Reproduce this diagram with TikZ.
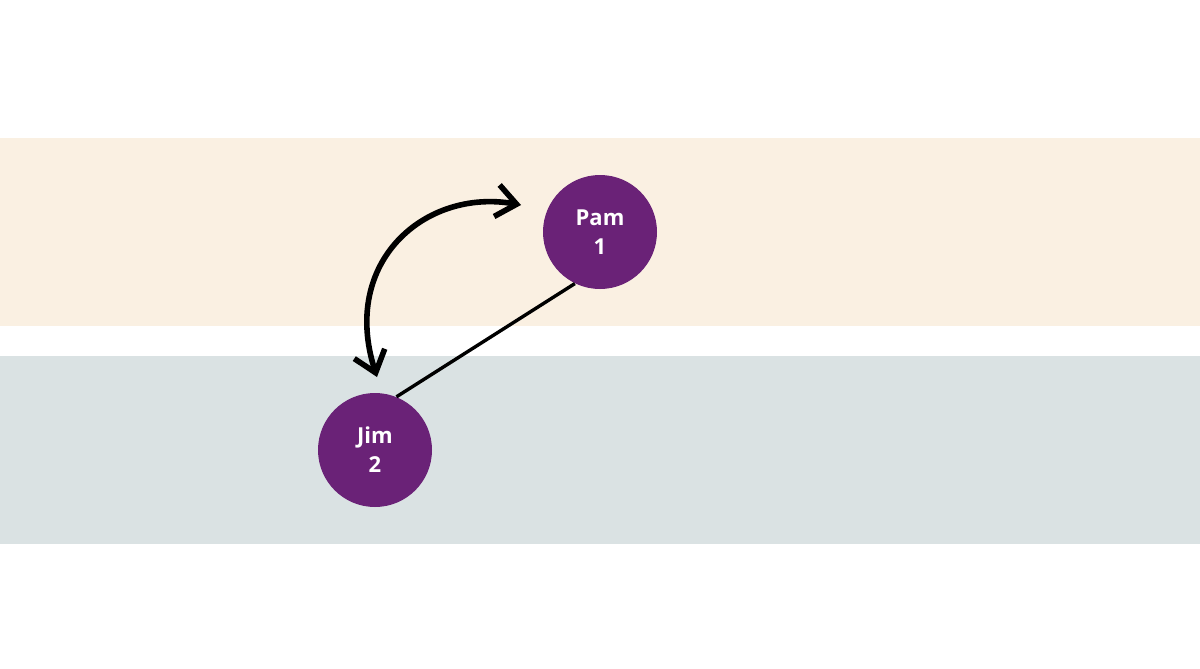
\documentclass[tikz,border=0pt]{standalone}
\usepackage{fontspec}
\setmainfont{Open Sans}
\usepackage{tikz}
\usetikzlibrary{arrows.meta}
\definecolor{bandtop}{HTML}{FAF0E2}
\definecolor{bandlow}{HTML}{DAE2E3}
\definecolor{plum}{HTML}{6A2277}

\begin{document}
\begin{tikzpicture}[x=0.5pt,y=-0.5pt,
  person/.style={circle,fill=plum,minimum size=57pt,inner sep=0pt,
    text=white,font=\bfseries\fontsize{11}{14.5}\selectfont,align=center}]
\useasboundingbox (0,0) rectangle (1200,669);
\fill[white] (0,0) rectangle (1200,669);
\fill[bandtop] (0,138) rectangle (1200,326);
\fill[bandlow] (0,356) rectangle (1200,544);
\node[person] (pam) at (600,232) {Pam\\1};
\node[person] (jim) at (375,450) {Jim\\2};
\draw[line width=1.7pt] (pam.244) -- (jim.68);
\coordinate (tipA) at (521,205);
\coordinate (tipB) at (377,377);
\draw[line width=2.8pt,{Straight Barb[length=10pt,width=16pt]}-{Straight Barb[length=10pt,width=16pt]}]
  (tipB) .. controls (340,262) and (425,188) .. (tipA);
\end{tikzpicture}
\end{document}
